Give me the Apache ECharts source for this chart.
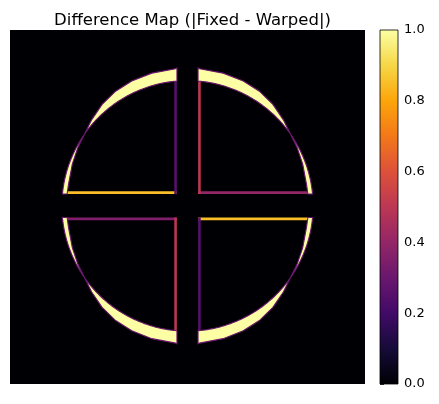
<!DOCTYPE html>
<html>
<head>
<meta charset="utf-8">
<script src="https://cdn.jsdelivr.net/npm/echarts@6/dist/echarts.min.js"></script>
<style>
  html, body { margin: 0; background: #fff; }
  #chart { width: 439px; height: 404px; }
</style>
</head>
<body>
<div id="chart"></div>
<script>
// image space is 128 x 128 px, y grows downwards
const imageSize = 128;
const center = [64.0, 63.6];
const gapX = [60.2, 67.8]; // right side of left quadrants, left side of right quadrants
const gapY = [59.3, 67.8]; // bottom of top quadrants, top of bottom quadrants
const fixedRadius = 45.3;

// warped outline, read per angle from the horizontal axis (deg) -> radius (px)
const warpedAngles = [0, 10, 20, 28, 35, 42, 50, 58, 66, 75, 85, 90];
const warpedRadii = [43.4, 43.6, 44.2, 44.8, 45.3, 46.5, 47.9, 48.9, 49.4, 49.7, 49.8, 49.9];

// quadrants: 0 top-left, 1 top-right, 2 bottom-left, 3 bottom-right
const quadrants = [0, 1, 2, 3];
const horizontalEdgeValues = [0.85, 0.4, 0.35, 0.85];
const verticalEdgeValues = [0.25, 0.5, 0.5, 0.25];
const crescentValue = 1.0;

const infernoColors = ['#000004', '#160b39', '#420a68', '#6a176e', '#932667', '#bc3754',
  '#dd513a', '#f37819', '#fca50a', '#f6d746', '#fcffa4'];

const chart = echarts.init(document.getElementById('chart'));

function side(q) {
  return { sx: q % 2 === 0 ? -1 : 1, sy: q < 2 ? -1 : 1 };
}

function quadrantPoint(q, phiDeg, r) {
  const { sx, sy } = side(q);
  const a = phiDeg * Math.PI / 180;
  let x = center[0] + sx * r * Math.cos(a);
  let y = center[1] + sy * r * Math.sin(a);
  x = sx < 0 ? Math.min(x, gapX[0]) : Math.max(x, gapX[1]);
  y = sy < 0 ? Math.min(y, gapY[0]) : Math.max(y, gapY[1]);
  return [x, y];
}

const edgeData = [];
quadrants.forEach(q => {
  edgeData.push([horizontalEdgeValues[q], q, 0]);
  edgeData.push([verticalEdgeValues[q], q, 1]);
});
const crescentData = quadrants.map(q => [crescentValue, q]);

function renderEdge(params, api) {
  const q = api.value(1);
  const orient = api.value(2);
  const { sx, sy } = side(q);
  let p1, p2;
  if (orient === 0) {
    const y = sy < 0 ? gapY[0] - 0.5 : gapY[1] + 0.5;
    const dx = Math.sqrt(fixedRadius * fixedRadius - (y - center[1]) ** 2);
    const xEnd = center[0] + sx * dx;
    const xGap = sx < 0 ? gapX[0] : gapX[1];
    p1 = api.coord([xEnd, y]);
    p2 = api.coord([xGap, y]);
  } else {
    const x = sx < 0 ? gapX[0] - 0.5 : gapX[1] + 0.5;
    const dy = Math.sqrt(fixedRadius * fixedRadius - (x - center[0]) ** 2);
    const yEnd = center[1] + sy * dy;
    const yGap = sy < 0 ? gapY[0] : gapY[1];
    p1 = api.coord([x, yEnd]);
    p2 = api.coord([x, yGap]);
  }
  return {
    type: 'line',
    shape: { x1: p1[0], y1: p1[1], x2: p2[0], y2: p2[1] },
    style: { stroke: api.visual('color'), lineWidth: 2.6 }
  };
}

function renderCrescent(params, api) {
  const q = api.value(1);
  const points = [];
  warpedAngles.forEach((phi, i) => points.push(api.coord(quadrantPoint(q, phi, warpedRadii[i]))));
  for (let phi = 90; phi >= 0; phi -= 1) {
    points.push(api.coord(quadrantPoint(q, phi, fixedRadius)));
  }
  return {
    type: 'polygon',
    shape: { points },
    style: { fill: api.visual('color'), stroke: '#6a176e', lineWidth: 1.1 }
  };
}

function renderColorbar(params, api) {
  const p0 = api.coord([0, 0]);
  const p1 = api.coord([1, 1]);
  const stops = infernoColors.map((c, i) => ({ offset: i / (infernoColors.length - 1), color: c }));
  const rect = { x: p0[0], y: p1[1], width: p1[0] - p0[0], height: p0[1] - p1[1] };
  return {
    type: 'group',
    children: [
      { type: 'rect', shape: rect, style: { fill: new echarts.graphic.LinearGradient(0, 1, 0, 0, stops) } },
      { type: 'rect', shape: rect, style: { fill: 'none', stroke: '#000', lineWidth: 0.8 } }
    ]
  };
}

chart.setOption({
  animation: false,
  title: {
    text: 'Difference Map (|Fixed - Warped|)',
    left: 187.5,
    top: 7,
    textAlign: 'center',
    textStyle: { fontSize: 16.5, fontWeight: 'normal', color: '#000', fontFamily: 'DejaVu Sans' }
  },
  grid: [
    { left: 10, top: 30, width: 355, height: 354, show: true, backgroundColor: infernoColors[0], borderWidth: 0 },
    { left: 380, top: 30, width: 18, height: 354 }
  ],
  xAxis: [
    { gridIndex: 0, type: 'value', min: 0, max: imageSize, show: false },
    { gridIndex: 1, type: 'value', min: 0, max: 1, show: false }
  ],
  yAxis: [
    { gridIndex: 0, type: 'value', min: 0, max: imageSize, inverse: true, show: false },
    {
      gridIndex: 1, type: 'value', min: 0, max: 1, interval: 0.2, position: 'right',
      axisLine: { show: false },
      axisTick: { show: true, length: 4, lineStyle: { color: '#000', width: 0.8 } },
      axisLabel: { formatter: v => v.toFixed(1), color: '#000', fontSize: 13, margin: 6, fontFamily: 'DejaVu Sans' },
      splitLine: { show: false }
    }
  ],
  visualMap: {
    show: false,
    type: 'continuous',
    min: 0,
    max: 1,
    dimension: 0,
    seriesIndex: [0, 1],
    inRange: { color: infernoColors }
  },
  series: [
    { type: 'custom', xAxisIndex: 0, yAxisIndex: 0, data: edgeData, renderItem: renderEdge },
    { type: 'custom', xAxisIndex: 0, yAxisIndex: 0, data: crescentData, renderItem: renderCrescent },
    { type: 'custom', xAxisIndex: 1, yAxisIndex: 1, data: [[0]], renderItem: renderColorbar, silent: true }
  ]
});
</script>
</body>
</html>
